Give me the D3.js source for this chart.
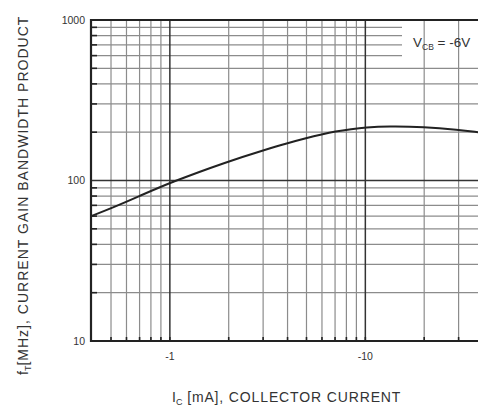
<!DOCTYPE html>
<html>
<head>
<meta charset="utf-8">
<script src="https://cdn.jsdelivr.net/npm/d3@7"></script>
<style>
  body { margin: 0; background: #fff; }
  svg { display: block; font-family: "Liberation Sans", Arial, sans-serif; }
</style>
</head>
<body>
<svg id="chart"></svg>
<script>
// collector current magnitude (mA)
const currentMA = [0.395, 0.5, 0.7, 1, 2, 3, 4, 5, 6, 7, 8.5, 10, 13, 20, 30, 37.7];
// fT in MHz at those currents
const ftMHz = [60, 67, 80, 97, 132, 154, 171, 184, 194, 202, 209, 214, 218, 216, 207, 200];

const xDomain = [0.395, 37.7];
const yDomain = [10, 1000];
const xTickValues = [1, 10];
const yTickValues = [10, 100, 1000];
const xGridMinor = [0.5, 0.6, 0.7, 0.8, 0.9, 2, 3, 4, 5, 6, 7, 8, 9, 20, 30];
const yGridMinor = [20, 30, 40, 50, 60, 70, 80, 90, 200, 300, 400, 500, 600, 700, 800, 900];
const yGridShort = [600, 700, 800, 900]; // stop before the V_CB label

const W = 478, H = 410;
const margin = { top: 20, right: 0, bottom: 69, left: 91 };
const width = W - margin.left - margin.right;
const height = H - margin.top - margin.bottom;

const svg = d3.select('#chart').attr('width', W).attr('height', H);
const g = svg.append('g').attr('transform', `translate(${margin.left},${margin.top})`);

const x = d3.scaleLog().domain(xDomain).range([0, width]);
const y = d3.scaleLog().domain(yDomain).range([height, 0]);

const labelGapX = 311; // short grid lines end here (px inside plot)

// minor grid
g.selectAll('.vminor').data(xGridMinor).enter().append('line')
  .attr('x1', d => x(d)).attr('x2', d => x(d))
  .attr('y1', 0).attr('y2', height)
  .attr('stroke', '#8c8c8c').attr('stroke-width', 1.2);

g.selectAll('.hminor').data(yGridMinor).enter().append('line')
  .attr('x1', 0)
  .attr('x2', d => yGridShort.includes(d) ? labelGapX : width)
  .attr('y1', d => y(d)).attr('y2', d => y(d))
  .attr('stroke', '#8c8c8c').attr('stroke-width', 1.2);

// major grid
g.selectAll('.vmajor').data(xTickValues).enter().append('line')
  .attr('x1', d => x(d)).attr('x2', d => x(d))
  .attr('y1', 0).attr('y2', height)
  .attr('stroke', '#333').attr('stroke-width', 1.5);

g.selectAll('.hmajor').data([100]).enter().append('line')
  .attr('x1', 0).attr('x2', width)
  .attr('y1', d => y(d)).attr('y2', d => y(d))
  .attr('stroke', '#333').attr('stroke-width', 1.5);

// inner ticks on left and bottom
g.selectAll('.ltick').data(yGridMinor).enter().append('line')
  .attr('x1', 0).attr('x2', 6)
  .attr('y1', d => y(d)).attr('y2', d => y(d))
  .attr('stroke', '#222').attr('stroke-width', 1.6);

g.selectAll('.btick').data(xGridMinor.concat(xTickValues)).enter().append('line')
  .attr('x1', d => x(d)).attr('x2', d => x(d))
  .attr('y1', height).attr('y2', height - 4)
  .attr('stroke', '#222').attr('stroke-width', 1.6);

// frame: left, top, bottom
g.append('path')
  .attr('d', `M${width},0H0V${height}H${width}`)
  .attr('fill', 'none').attr('stroke', '#222').attr('stroke-width', 2.2);

// curve
const line = d3.line()
  .x((d, i) => x(currentMA[i]))
  .y(d => y(d))
  .curve(d3.curveBasis);

g.append('path')
  .attr('d', line(ftMHz))
  .attr('fill', 'none').attr('stroke', '#222').attr('stroke-width', 2);

// tick labels
g.selectAll('.ylab').data(yTickValues).enter().append('text')
  .attr('x', -6).attr('y', d => y(d)).attr('dy', '0.35em')
  .attr('text-anchor', 'end').attr('font-size', 10.5).attr('fill', '#333')
  .text(d => d);

g.selectAll('.xlab').data(xTickValues).enter().append('text')
  .attr('x', d => x(d)).attr('y', height + 19)
  .attr('text-anchor', 'middle').attr('font-size', 10.5).attr('fill', '#333')
  .text(d => '-' + d);

// V_CB annotation
const vcb = g.append('text')
  .attr('x', 322).attr('y', 27)
  .attr('font-size', 13.5).attr('fill', '#333');
vcb.append('tspan').text('V');
vcb.append('tspan').attr('font-size', 8.5).attr('dy', 3).text('CB');
vcb.append('tspan').attr('dy', -3).text(' = -6V');

// axis titles
const xt = svg.append('text')
  .attr('x', 172).attr('y', 402)
  .attr('font-size', 14).attr('fill', '#333');
xt.append('tspan').text('I');
xt.append('tspan').attr('font-size', 9).attr('dy', 3).text('C');
xt.append('tspan').attr('dy', -3).attr('textLength', 218).attr('lengthAdjust', 'spacing')
  .text(' [mA], COLLECTOR CURRENT');

const yt = svg.append('text')
  .attr('transform', 'translate(28,375) rotate(-90)')
  .attr('font-size', 14).attr('fill', '#333');
yt.append('tspan').text('f');
yt.append('tspan').attr('font-size', 9).attr('dy', 3).text('T');
yt.append('tspan').attr('dy', -3).attr('textLength', 349).attr('lengthAdjust', 'spacing')
  .text('[MHz], CURRENT GAIN BANDWIDTH PRODUCT');
</script>
</body>
</html>
